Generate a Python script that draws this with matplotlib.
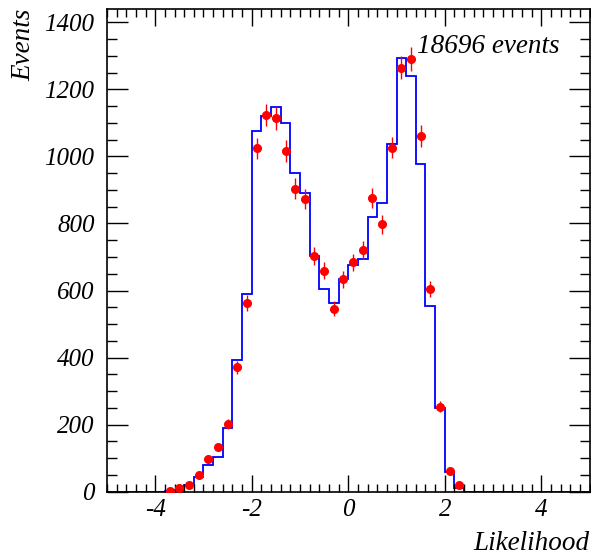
import numpy as np
import matplotlib.pyplot as plt
from matplotlib.ticker import MultipleLocator

plt.rcParams['axes.unicode_minus'] = False

# binning (50 bins from -5 to 5)
x_lo = -5.0
x_hi = 5.0
n_bins = 50

# histogram (blue line), one value per bin
mc_counts = [0, 0, 0, 0, 0, 0,
             3, 5, 20, 45, 79, 104, 191, 393, 589, 1076,
             1120, 1148, 1100, 951, 892, 703, 604, 562, 635, 675,
             695, 820, 862, 1037, 1294, 1241, 977, 555, 251, 60, 12,
             0, 0, 0, 0, 0, 0, 0, 0, 0, 0, 0, 0, 0]

# data points (red), one value per bin
data_counts = [0, 0, 0, 0, 0, 0,
               3, 10, 20, 51, 98, 132, 202, 371, 564, 1024,
               1123, 1113, 1016, 904, 872, 704, 659, 546, 633, 684,
               720, 877, 798, 1026, 1265, 1290, 1060, 605, 254, 61, 21,
               0, 0, 0, 0, 0, 0, 0, 0, 0, 0, 0, 0, 0]

n_events = 18696

edges = np.linspace(x_lo, x_hi, n_bins + 1)
centers = 0.5*(edges[1:] + edges[:-1])
mc = np.array(mc_counts, dtype=float)
dat = np.array(data_counts, dtype=float)

serif = 'Liberation Serif'

fig = plt.figure(figsize=(5.91, 5.58), dpi=100)
ax = fig.add_axes([0.181, 0.1188, 0.8165, 0.8642])

ax.stairs(mc, edges, color='blue', lw=1.3)

sel = dat > 0
ax.errorbar(centers[sel], dat[sel], yerr=np.sqrt(dat[sel]), xerr=0.075,
            fmt='o', color='red', ms=5.5, elinewidth=1.0, capsize=0, zorder=3)

ax.set_xlim(x_lo, x_hi)
ax.set_ylim(0, 1438)

ax.xaxis.set_major_locator(MultipleLocator(2))
ax.xaxis.set_minor_locator(MultipleLocator(0.2))
ax.yaxis.set_major_locator(MultipleLocator(200))
ax.yaxis.set_minor_locator(MultipleLocator(50))

ax.tick_params(which='both', direction='in', top=True, right=True, width=1.0)
ax.tick_params(which='major', axis='x', length=12, pad=5)
ax.tick_params(which='minor', axis='x', length=6)
ax.tick_params(which='major', axis='y', length=15, pad=9)
ax.tick_params(which='minor', axis='y', length=7.5)

for s in ax.spines.values():
    s.set_linewidth(1.2)

for lab in ax.get_xticklabels() + ax.get_yticklabels():
    lab.set_fontfamily(serif)
    lab.set_fontstyle('italic')
    lab.set_fontsize(18)

fig.text(589/591, 1 - 550/558, 'Likelihood', ha='right', va='baseline',
         fontfamily=serif, fontstyle='italic', fontsize=19.5)
fig.text(24/591, 1 - 9/558, 'Events', ha='center', va='top', rotation=90,
         fontfamily=serif, fontstyle='italic', fontsize=19.5)
fig.text(417/591, 1 - 53/558, '%d events' % n_events, ha='left', va='baseline',
         fontfamily=serif, fontstyle='italic', fontsize=19.5)

plt.savefig('out.png', dpi=100)
